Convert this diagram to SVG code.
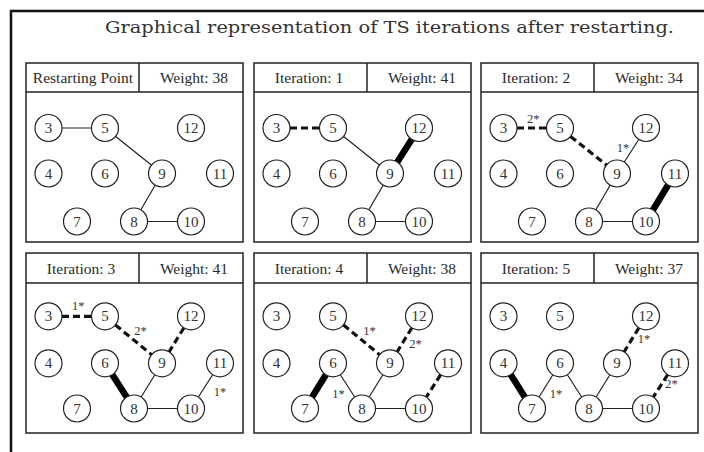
<svg xmlns="http://www.w3.org/2000/svg" width="704" height="452" viewBox="0 0 704 452">
<style>
.bg{fill:#fff}
.frame{fill:none;stroke:#111;stroke-width:2.5}
.title{font-family:"DejaVu Serif","Liberation Serif",serif;font-size:17px;fill:#333}
.panel{fill:#fff;stroke:#222;stroke-width:1.5}
.hl{stroke:#222;stroke-width:1.5}
.ht{font-family:"Liberation Serif",serif;font-size:15.5px;fill:#2a2a2a;text-anchor:middle}
.node circle{fill:#fff;stroke:#222;stroke-width:1.2}
.node text{font-family:"Liberation Serif",serif;font-size:15px;fill:#333;text-anchor:middle}
.e{stroke:#222;stroke-width:1.2;fill:none}
.d{stroke:#111;stroke-width:3.2;stroke-dasharray:7 4;fill:none}
.t{stroke:#000;stroke-width:6.5;fill:none}
.lbl{font-family:"Liberation Serif",serif;font-size:12.5px;fill:#333;text-anchor:middle}
</style>
<defs>
<circle id="c" r="13.5"/>
</defs>
<rect class="bg" x="0" y="0" width="704" height="452"/>
<rect class="frame" x="11" y="11" width="720" height="470"/>
<text class="title" x="105" y="33" textLength="569" lengthAdjust="spacingAndGlyphs">Graphical representation of TS iterations after restarting.</text>

<!-- Panel 1 -->
<g id="panel1" transform="translate(26,0)">
<rect class="panel" x="0" y="63" width="217" height="179"/>
<line class="hl" x1="0" y1="92" x2="217" y2="92"/>
<line class="hl" x1="113" y1="63" x2="113" y2="92"/>
<text class="ht" x="57" y="82.7">Restarting Point</text>
<text class="ht" x="168" y="82.7">Weight: 38</text>
<g id="p1-connectors">
<line class="e" x1="22.5" y1="128" x2="79" y2="128"/>
<line class="e" x1="79" y1="128" x2="136" y2="173.5"/>
<line class="e" x1="136" y1="173.5" x2="108" y2="221.5"/>
<line class="e" x1="108" y1="221.5" x2="165" y2="221.5"/>
</g>
<g id="p1-n3" class="node"><circle cx="22.5" cy="128" r="13.5"/><text x="22.5" y="133">3</text></g>
<g id="p1-n5" class="node"><circle cx="79" cy="128" r="13.5"/><text x="79" y="133">5</text></g>
<g id="p1-n12" class="node"><circle cx="165" cy="128" r="13.5"/><text x="165" y="133">12</text></g>
<g id="p1-n4" class="node"><circle cx="22.5" cy="173.5" r="13.5"/><text x="22.5" y="178.5">4</text></g>
<g id="p1-n6" class="node"><circle cx="79" cy="173.5" r="13.5"/><text x="79" y="178.5">6</text></g>
<g id="p1-n9" class="node"><circle cx="136" cy="173.5" r="13.5"/><text x="136" y="178.5">9</text></g>
<g id="p1-n11" class="node"><circle cx="194" cy="173.5" r="13.5"/><text x="194" y="178.5">11</text></g>
<g id="p1-n7" class="node"><circle cx="51" cy="221.5" r="13.5"/><text x="51" y="226.5">7</text></g>
<g id="p1-n8" class="node"><circle cx="108" cy="221.5" r="13.5"/><text x="108" y="226.5">8</text></g>
<g id="p1-n10" class="node"><circle cx="165" cy="221.5" r="13.5"/><text x="165" y="226.5">10</text></g>
</g>

<!-- Panel 2 -->
<g id="panel2" transform="translate(254,0)">
<rect class="panel" x="0" y="63" width="217" height="179"/>
<line class="hl" x1="0" y1="92" x2="217" y2="92"/>
<line class="hl" x1="113" y1="63" x2="113" y2="92"/>
<text class="ht" x="55" y="82.7">Iteration: 1</text>
<text class="ht" x="168" y="82.7">Weight: 41</text>
<g id="p2-connectors">
<line class="d" x1="36" y1="128" x2="65.5" y2="128"/>
<line class="e" x1="79" y1="128" x2="136" y2="173.5"/>
<line class="t" x1="165" y1="128" x2="136" y2="173.5"/>
<line class="e" x1="136" y1="173.5" x2="108" y2="221.5"/>
<line class="e" x1="108" y1="221.5" x2="165" y2="221.5"/>
</g>
<g id="p2-n3" class="node"><circle cx="22.5" cy="128" r="13.5"/><text x="22.5" y="133">3</text></g>
<g id="p2-n5" class="node"><circle cx="79" cy="128" r="13.5"/><text x="79" y="133">5</text></g>
<g id="p2-n12" class="node"><circle cx="165" cy="128" r="13.5"/><text x="165" y="133">12</text></g>
<g id="p2-n4" class="node"><circle cx="22.5" cy="173.5" r="13.5"/><text x="22.5" y="178.5">4</text></g>
<g id="p2-n6" class="node"><circle cx="79" cy="173.5" r="13.5"/><text x="79" y="178.5">6</text></g>
<g id="p2-n9" class="node"><circle cx="136" cy="173.5" r="13.5"/><text x="136" y="178.5">9</text></g>
<g id="p2-n11" class="node"><circle cx="194" cy="173.5" r="13.5"/><text x="194" y="178.5">11</text></g>
<g id="p2-n7" class="node"><circle cx="51" cy="221.5" r="13.5"/><text x="51" y="226.5">7</text></g>
<g id="p2-n8" class="node"><circle cx="108" cy="221.5" r="13.5"/><text x="108" y="226.5">8</text></g>
<g id="p2-n10" class="node"><circle cx="165" cy="221.5" r="13.5"/><text x="165" y="226.5">10</text></g>
</g>

<!-- Panel 3 -->
<g id="panel3" transform="translate(481,0)">
<rect class="panel" x="0" y="63" width="217" height="179"/>
<line class="hl" x1="0" y1="92" x2="217" y2="92"/>
<line class="hl" x1="113" y1="63" x2="113" y2="92"/>
<text class="ht" x="55" y="82.7">Iteration: 2</text>
<text class="ht" x="168" y="82.7">Weight: 34</text>
<g id="p3-connectors">
<line class="d" x1="36" y1="128" x2="65.5" y2="128"/>
<line class="d" x1="89.5" y1="136.4" x2="125.5" y2="165.1"/>
<line class="e" x1="165" y1="128" x2="136" y2="173.5"/>
<line class="e" x1="136" y1="173.5" x2="108" y2="221.5"/>
<line class="e" x1="108" y1="221.5" x2="165" y2="221.5"/>
<line class="t" x1="194" y1="173.5" x2="165" y2="221.5"/>
</g>
<text class="lbl" x="52.3" y="122.7">2*</text>
<text class="lbl" x="142" y="151.7">1*</text>
<g id="p3-n3" class="node"><circle cx="22.5" cy="128" r="13.5"/><text x="22.5" y="133">3</text></g>
<g id="p3-n5" class="node"><circle cx="79" cy="128" r="13.5"/><text x="79" y="133">5</text></g>
<g id="p3-n12" class="node"><circle cx="165" cy="128" r="13.5"/><text x="165" y="133">12</text></g>
<g id="p3-n4" class="node"><circle cx="22.5" cy="173.5" r="13.5"/><text x="22.5" y="178.5">4</text></g>
<g id="p3-n6" class="node"><circle cx="79" cy="173.5" r="13.5"/><text x="79" y="178.5">6</text></g>
<g id="p3-n9" class="node"><circle cx="136" cy="173.5" r="13.5"/><text x="136" y="178.5">9</text></g>
<g id="p3-n11" class="node"><circle cx="194" cy="173.5" r="13.5"/><text x="194" y="178.5">11</text></g>
<g id="p3-n7" class="node"><circle cx="51" cy="221.5" r="13.5"/><text x="51" y="226.5">7</text></g>
<g id="p3-n8" class="node"><circle cx="108" cy="221.5" r="13.5"/><text x="108" y="226.5">8</text></g>
<g id="p3-n10" class="node"><circle cx="165" cy="221.5" r="13.5"/><text x="165" y="226.5">10</text></g>
</g>

<!-- Panel 4 -->
<g id="panel4" transform="translate(26,0)">
<rect class="panel" x="0" y="253" width="217" height="180"/>
<line class="hl" x1="0" y1="283" x2="217" y2="283"/>
<line class="hl" x1="113" y1="253" x2="113" y2="283"/>
<text class="ht" x="55" y="273.5">Iteration: 3</text>
<text class="ht" x="168" y="273.5">Weight: 41</text>
<g id="p4-connectors">
<line class="d" x1="36" y1="316.3" x2="65.5" y2="316.3"/>
<line class="d" x1="89.4" y1="324.9" x2="125.6" y2="354.7"/>
<line class="d" x1="157.9" y1="327.8" x2="143.1" y2="351.8"/>
<line class="t" x1="79" y1="363.3" x2="108" y2="408.5"/>
<line class="e" x1="136" y1="363.3" x2="108" y2="408.5"/>
<line class="e" x1="108" y1="408.5" x2="165" y2="408.5"/>
<line class="e" x1="194" y1="363.3" x2="165" y2="408.5"/>
</g>
<text class="lbl" x="52.3" y="310">1*</text>
<text class="lbl" x="114.5" y="335">2*</text>
<text class="lbl" x="194" y="396">1*</text>
<g id="p4-n3" class="node"><circle cx="22.5" cy="316.3" r="13.5"/><text x="22.5" y="321.3">3</text></g>
<g id="p4-n5" class="node"><circle cx="79" cy="316.3" r="13.5"/><text x="79" y="321.3">5</text></g>
<g id="p4-n12" class="node"><circle cx="165" cy="316.3" r="13.5"/><text x="165" y="321.3">12</text></g>
<g id="p4-n4" class="node"><circle cx="22.5" cy="363.3" r="13.5"/><text x="22.5" y="368.3">4</text></g>
<g id="p4-n6" class="node"><circle cx="79" cy="363.3" r="13.5"/><text x="79" y="368.3">6</text></g>
<g id="p4-n9" class="node"><circle cx="136" cy="363.3" r="13.5"/><text x="136" y="368.3">9</text></g>
<g id="p4-n11" class="node"><circle cx="194" cy="363.3" r="13.5"/><text x="194" y="368.3">11</text></g>
<g id="p4-n7" class="node"><circle cx="51" cy="408.5" r="13.5"/><text x="51" y="413.5">7</text></g>
<g id="p4-n8" class="node"><circle cx="108" cy="408.5" r="13.5"/><text x="108" y="413.5">8</text></g>
<g id="p4-n10" class="node"><circle cx="165" cy="408.5" r="13.5"/><text x="165" y="413.5">10</text></g>
</g>

<!-- Panel 5 -->
<g id="panel5" transform="translate(254,0)">
<rect class="panel" x="0" y="253" width="217" height="180"/>
<line class="hl" x1="0" y1="283" x2="217" y2="283"/>
<line class="hl" x1="113" y1="253" x2="113" y2="283"/>
<text class="ht" x="55" y="273.5">Iteration: 4</text>
<text class="ht" x="168" y="273.5">Weight: 38</text>
<g id="p5-connectors">
<line class="d" x1="89.4" y1="324.9" x2="125.6" y2="354.7"/>
<line class="d" x1="157.9" y1="327.8" x2="143.1" y2="351.8"/>
<line class="t" x1="79" y1="363.3" x2="51" y2="408.5"/>
<line class="e" x1="79" y1="363.3" x2="108" y2="408.5"/>
<line class="e" x1="136" y1="363.3" x2="108" y2="408.5"/>
<line class="e" x1="108" y1="408.5" x2="165" y2="408.5"/>
<line class="d" x1="186.7" y1="374.7" x2="172.3" y2="397.1"/>
</g>
<text class="lbl" x="115.5" y="335">1*</text>
<text class="lbl" x="161.5" y="348.3">2*</text>
<text class="lbl" x="84.5" y="398.3">1*</text>
<g id="p5-n3" class="node"><circle cx="22.5" cy="316.3" r="13.5"/><text x="22.5" y="321.3">3</text></g>
<g id="p5-n5" class="node"><circle cx="79" cy="316.3" r="13.5"/><text x="79" y="321.3">5</text></g>
<g id="p5-n12" class="node"><circle cx="165" cy="316.3" r="13.5"/><text x="165" y="321.3">12</text></g>
<g id="p5-n4" class="node"><circle cx="22.5" cy="363.3" r="13.5"/><text x="22.5" y="368.3">4</text></g>
<g id="p5-n6" class="node"><circle cx="79" cy="363.3" r="13.5"/><text x="79" y="368.3">6</text></g>
<g id="p5-n9" class="node"><circle cx="136" cy="363.3" r="13.5"/><text x="136" y="368.3">9</text></g>
<g id="p5-n11" class="node"><circle cx="194" cy="363.3" r="13.5"/><text x="194" y="368.3">11</text></g>
<g id="p5-n7" class="node"><circle cx="51" cy="408.5" r="13.5"/><text x="51" y="413.5">7</text></g>
<g id="p5-n8" class="node"><circle cx="108" cy="408.5" r="13.5"/><text x="108" y="413.5">8</text></g>
<g id="p5-n10" class="node"><circle cx="165" cy="408.5" r="13.5"/><text x="165" y="413.5">10</text></g>
</g>

<!-- Panel 6 -->
<g id="panel6" transform="translate(481,0)">
<rect class="panel" x="0" y="253" width="217" height="180"/>
<line class="hl" x1="0" y1="283" x2="217" y2="283"/>
<line class="hl" x1="113" y1="253" x2="113" y2="283"/>
<text class="ht" x="55" y="273.5">Iteration: 5</text>
<text class="ht" x="168" y="273.5">Weight: 37</text>
<g id="p6-connectors">
<line class="d" x1="157.9" y1="327.8" x2="143.1" y2="351.8"/>
<line class="t" x1="22.5" y1="363.3" x2="51" y2="408.5"/>
<line class="e" x1="79" y1="363.3" x2="51" y2="408.5"/>
<line class="e" x1="79" y1="363.3" x2="108" y2="408.5"/>
<line class="e" x1="136" y1="363.3" x2="108" y2="408.5"/>
<line class="e" x1="108" y1="408.5" x2="165" y2="408.5"/>
<line class="d" x1="186.7" y1="374.7" x2="172.3" y2="397.1"/>
</g>
<text class="lbl" x="163" y="342.7">1*</text>
<text class="lbl" x="75" y="398.3">1*</text>
<text class="lbl" x="190.5" y="387.7">2*</text>
<g id="p6-n3" class="node"><circle cx="22.5" cy="316.3" r="13.5"/><text x="22.5" y="321.3">3</text></g>
<g id="p6-n5" class="node"><circle cx="79" cy="316.3" r="13.5"/><text x="79" y="321.3">5</text></g>
<g id="p6-n12" class="node"><circle cx="165" cy="316.3" r="13.5"/><text x="165" y="321.3">12</text></g>
<g id="p6-n4" class="node"><circle cx="22.5" cy="363.3" r="13.5"/><text x="22.5" y="368.3">4</text></g>
<g id="p6-n6" class="node"><circle cx="79" cy="363.3" r="13.5"/><text x="79" y="368.3">6</text></g>
<g id="p6-n9" class="node"><circle cx="136" cy="363.3" r="13.5"/><text x="136" y="368.3">9</text></g>
<g id="p6-n11" class="node"><circle cx="194" cy="363.3" r="13.5"/><text x="194" y="368.3">11</text></g>
<g id="p6-n7" class="node"><circle cx="51" cy="408.5" r="13.5"/><text x="51" y="413.5">7</text></g>
<g id="p6-n8" class="node"><circle cx="108" cy="408.5" r="13.5"/><text x="108" y="413.5">8</text></g>
<g id="p6-n10" class="node"><circle cx="165" cy="408.5" r="13.5"/><text x="165" y="413.5">10</text></g>
</g>
</svg>
